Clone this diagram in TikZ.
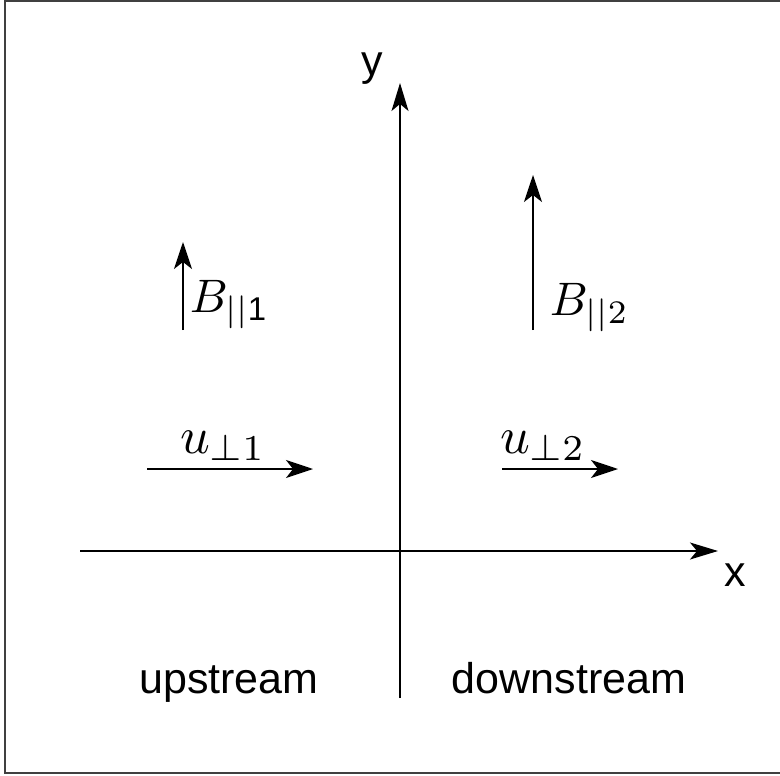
\documentclass[tikz,border=0pt]{standalone}
\usepackage{amsmath}
\usepackage{fontspec}
\newfontfamily\arialf{Liberation Sans}
\usetikzlibrary{arrows.meta}
\begin{document}
\begin{tikzpicture}[x=1pt,y=-1pt,
  vec/.style={line width=1.7pt,-{Stealth[length=27pt,width=18pt,inset=7pt]}},
  axis/.style={line width=1.4pt,-{Stealth[length=28pt,width=17pt,inset=7pt]}},
  sanslabel/.style={inner sep=0pt,anchor=base,font=\arialf\fontsize{43}{50}\selectfont},
  blabel/.style={inner sep=0pt,anchor=base west,scale=4.7},
  ulabel/.style={inner sep=0pt,anchor=base west,scale=5.2},
  frameline/.style={line width=2pt,draw=black!75}]
\useasboundingbox (0,0) rectangle (780,776);
% frame
\coordinate (fa) at (5,1);
\coordinate (fb) at (5,773);
\coordinate (fc) at (782,773);
\coordinate (fd) at (782,1);
\draw[frameline] (fc) -- (fb) -- (fa) -- (fd);
% axes
\coordinate (xs) at (80,551);
\coordinate (xe) at (718,551);
\coordinate (ys) at (400,698);
\coordinate (ye) at (400,83);
\draw[axis] (xs) -- (xe);
\draw[axis] (ys) -- (ye);
\node[sanslabel] (ylab) at (372,76) {y};
\node[sanslabel] (xlab) at (735,586) {x};
% B vectors
\coordinate (b1s) at (183,330);
\coordinate (b1e) at (183,242);
\coordinate (b2s) at (533,330);
\coordinate (b2e) at (533,175);
\draw[vec] (b1s) -- (b1e);
\draw[vec] (b2s) -- (b2e);
\node[blabel] (b1lab) at (189,312) {$B_{||\text{\arialf 1}}$};
\node[blabel] (b2lab) at (549,315) {$B_{||2}$};
% u vectors
\coordinate (u1s) at (147,469);
\coordinate (u1e) at (313,469);
\coordinate (u2s) at (502,469);
\coordinate (u2e) at (618,469);
\draw[vec] (u1s) -- (u1e);
\draw[vec] (u2s) -- (u2e);
\node[ulabel] (u1lab) at (179,453) {$u_{\perp 1}$};
\node[ulabel] (u2lab) at (499,453) {$u_{\perp 2}$};
% regions
\node[sanslabel] (up) at (229,693) {upstream};
\node[sanslabel] (down) at (569,693) {downstream};
\end{tikzpicture}
\end{document}
